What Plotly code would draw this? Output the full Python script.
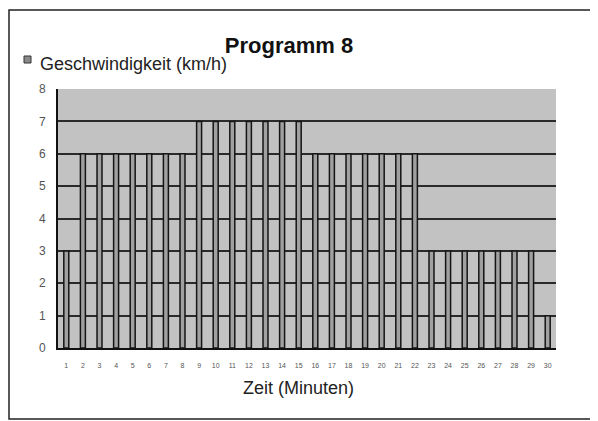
import plotly.graph_objects as go

minutes = list(range(1, 31))
speed = [3, 6, 6, 6, 6, 6, 6, 6, 7, 7, 7, 7, 7, 7, 7,
         6, 6, 6, 6, 6, 6, 6, 3, 3, 3, 3, 3, 3, 3, 1]
y_ticks = list(range(0, 9))

W, H = 590, 413
L, R, T, B = 50, 42, 81, 73
PW, PH = W - L - R, H - T - B


def px(fx):
    return (fx - L) / PW


def py(fy):
    return (H - B - fy) / PH


fig = go.Figure()
fig.add_trace(go.Bar(
    x=minutes, y=speed, name="Geschwindigkeit (km/h)",
    width=0.3,
    marker=dict(color="#a0a0a0", line=dict(color="#151515", width=1.5)),
))

fig.update_layout(
    width=W, height=H,
    margin=dict(l=L, r=R, t=T, b=B),
    paper_bgcolor="white",
    plot_bgcolor="#c2c2c2",
    font=dict(family="Liberation Sans, Arial, sans-serif", color="#222"),
    title=dict(text="<b>Programm 8</b>", x=281 / W, xanchor="center",
               y=1 - 37 / H, yanchor="middle", font=dict(size=22, color="#111")),
    showlegend=False,
    bargap=0.7,
    xaxis=dict(
        range=[0.5, 30.5], tickmode="array", tickvals=minutes,
        ticktext=[str(m) for m in minutes],
        tickfont=dict(size=7, color="#555"), ticks="", showgrid=False,
        showline=True, linecolor="#111", linewidth=2,
        ticklabelstandoff=10,
    ),
    yaxis=dict(
        range=[0, 8], tickmode="array", tickvals=y_ticks,
        tickfont=dict(size=12, color="#555"), ticks="",
        showgrid=True, gridcolor="#2a2a2a", gridwidth=1.5,
        showline=True, linecolor="#111", linewidth=2, zeroline=False,
        ticklabelstandoff=8,
    ),
)

# legend (square + label)
fig.add_shape(type="rect", xref="paper", yref="paper",
              x0=px(16), x1=px(23), y0=py(55), y1=py(48),
              fillcolor="#8a8a8a", line=dict(color="#333", width=1))
fig.add_annotation(xref="paper", yref="paper", x=px(30), y=py(56),
                   xanchor="left", yanchor="middle", showarrow=False,
                   text="Geschwindigkeit (km/h)", font=dict(size=18, color="#222"))
# x-axis title
fig.add_annotation(xref="paper", yref="paper", x=px(290), y=py(380),
                   xanchor="center", yanchor="middle", showarrow=False,
                   text="Zeit (Minuten)", font=dict(size=18, color="#222"))
# outer frame
fig.add_shape(type="rect", xref="paper", yref="paper",
              x0=px(1), x1=px(587), y0=py(411), y1=py(2),
              line=dict(color="#222", width=1.5), layer="below")

fig.write_html("out.html")
